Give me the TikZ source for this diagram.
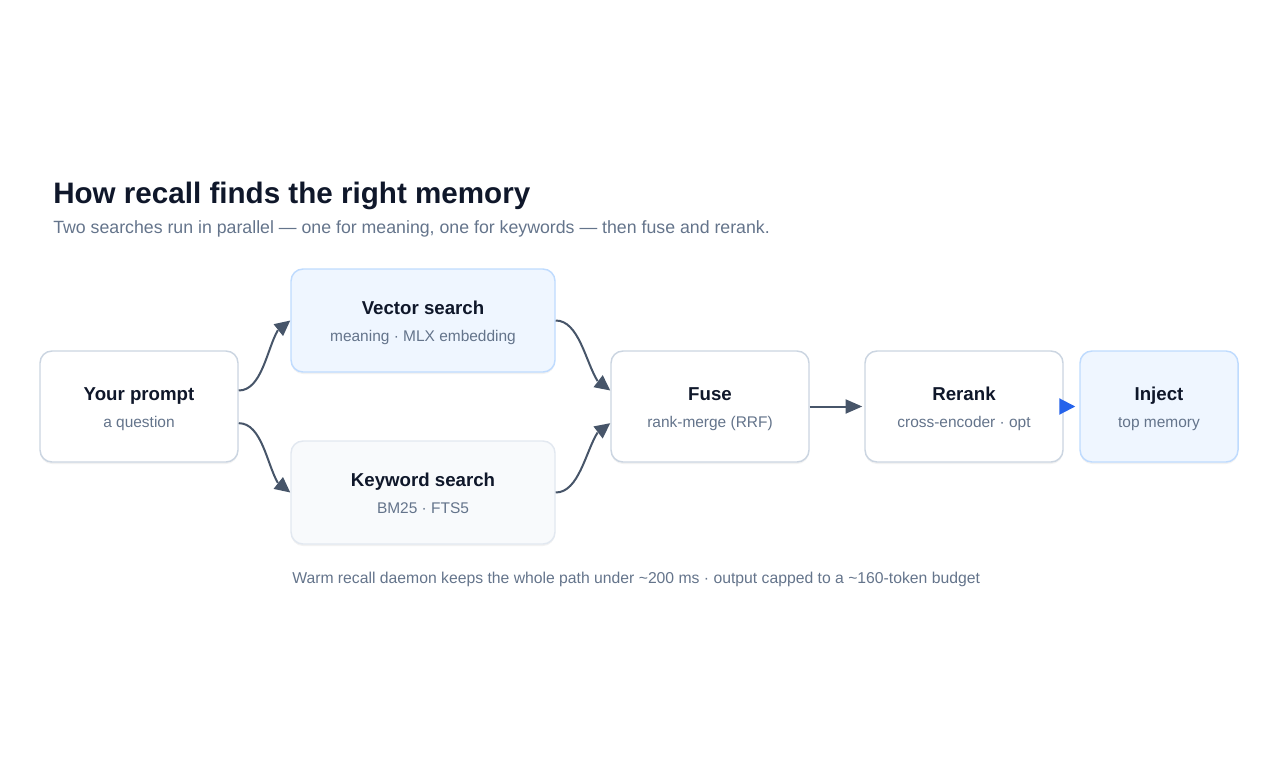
\documentclass[tikz,border=0pt]{standalone}
\usepackage{fontspec}
\setmainfont{Liberation Sans}
\usepackage{tikz}
\usetikzlibrary{arrows.meta,bending,positioning,shadows}

\definecolor{ink}{HTML}{0F172A}
\definecolor{muted}{HTML}{64748B}
\definecolor{edge}{HTML}{CBD5E1}
\definecolor{softedge}{HTML}{E2E8F0}
\definecolor{blueedge}{HTML}{BFDBFE}
\definecolor{bluefill}{HTML}{EFF6FF}
\definecolor{greyfill}{HTML}{F8FAFC}
\definecolor{wire}{HTML}{475569}
\definecolor{accent}{HTML}{2563EB}

\newcommand{\boxsub}[1]{{\mdseries\fontsize{11.6}{20.25}\selectfont\color{muted}#1}}

\begin{document}
\begin{tikzpicture}[
    x=0.75pt, y=-0.75pt,
    box/.style={rectangle, draw=edge, line width=1.1pt, rounded corners=9pt, fill=white,
        minimum width=148.5pt, minimum height=83.25pt, align=center, text=ink,
        text height=31pt, text depth=0pt,
        font=\fontsize{14}{20.25}\selectfont\bfseries,
        drop shadow={shadow xshift=0pt, shadow yshift=-1.5pt, opacity=0.05, fill=black}},
    search/.style={box, minimum width=198pt, minimum height=77.25pt},
    flow/.style={-{Triangle[length=11.5pt, width=11pt]}, line width=1.5pt, draw=wire},
    heading/.style={anchor=base west, inner sep=0pt, text=ink, font=\fontsize{22.2}{26}\selectfont\bfseries},
    caption/.style={anchor=base west, inner sep=0pt, text=muted, font=\fontsize{13.3}{16}\selectfont}
]
\useasboundingbox (0,0) rectangle (1270,760);

% Heading
\node[heading] (title) at (53,203) {How recall finds the right memory};
\node[caption] (subtitle) at (53,233) {Two searches run in parallel — one for meaning, one for keywords — then fuse and rerank.};

% Pipeline
\node[box] (prompt) at (139,406.5) {Your prompt\\\boxsub{a question}};
\node[search, draw=blueedge, fill=bluefill] (vector) at (423,320.5) {Vector search\\\boxsub{meaning · MLX embedding}};
\node[search, draw=softedge, fill=greyfill] (keyword) at (423,492.5) {Keyword search\\\boxsub{BM25 · FTS5}};
\node[box] (fuse) at (710,406.5) {Fuse\\\boxsub{rank-merge (RRF)}};
\node[box] (rerank) at (964,406.5) {Rerank\\\boxsub{cross-encoder · opt}};
\node[box, draw=blueedge, fill=bluefill, minimum width=118.5pt] (inject) at (1159,406.5) {Inject\\\boxsub{top memory}};

% Connectors
\draw[flow] ([yshift=12pt]prompt.east) .. controls +(30,0) and +(-22,0) .. (vector.west);
\draw[flow] ([yshift=-12.5pt]prompt.east) .. controls +(30,0) and +(-22,0) .. (keyword.west);
\draw[flow] (vector.east) .. controls +(30,0) and +(-22,0) .. ([yshift=12pt]fuse.west);
\draw[flow] (keyword.east) .. controls +(30,0) and +(-22,0) .. ([yshift=-12.5pt]fuse.west);
\draw[flow, -{Triangle[length=12.5pt, width=10.5pt]}, shorten >=1.5pt] (fuse.east) -- (rerank.west);
\draw[flow, draw=accent, fill=accent, -{Triangle[length=12pt, width=12pt]}, shorten >=3pt] (rerank.east) -- (inject.west);

% Footnote
\node[caption, font=\fontsize{11.8}{14}\selectfont] (note) at (292,583) {Warm recall daemon keeps the whole path under \textasciitilde200 ms · output capped to a \textasciitilde160-token budget};
\end{tikzpicture}
\end{document}
